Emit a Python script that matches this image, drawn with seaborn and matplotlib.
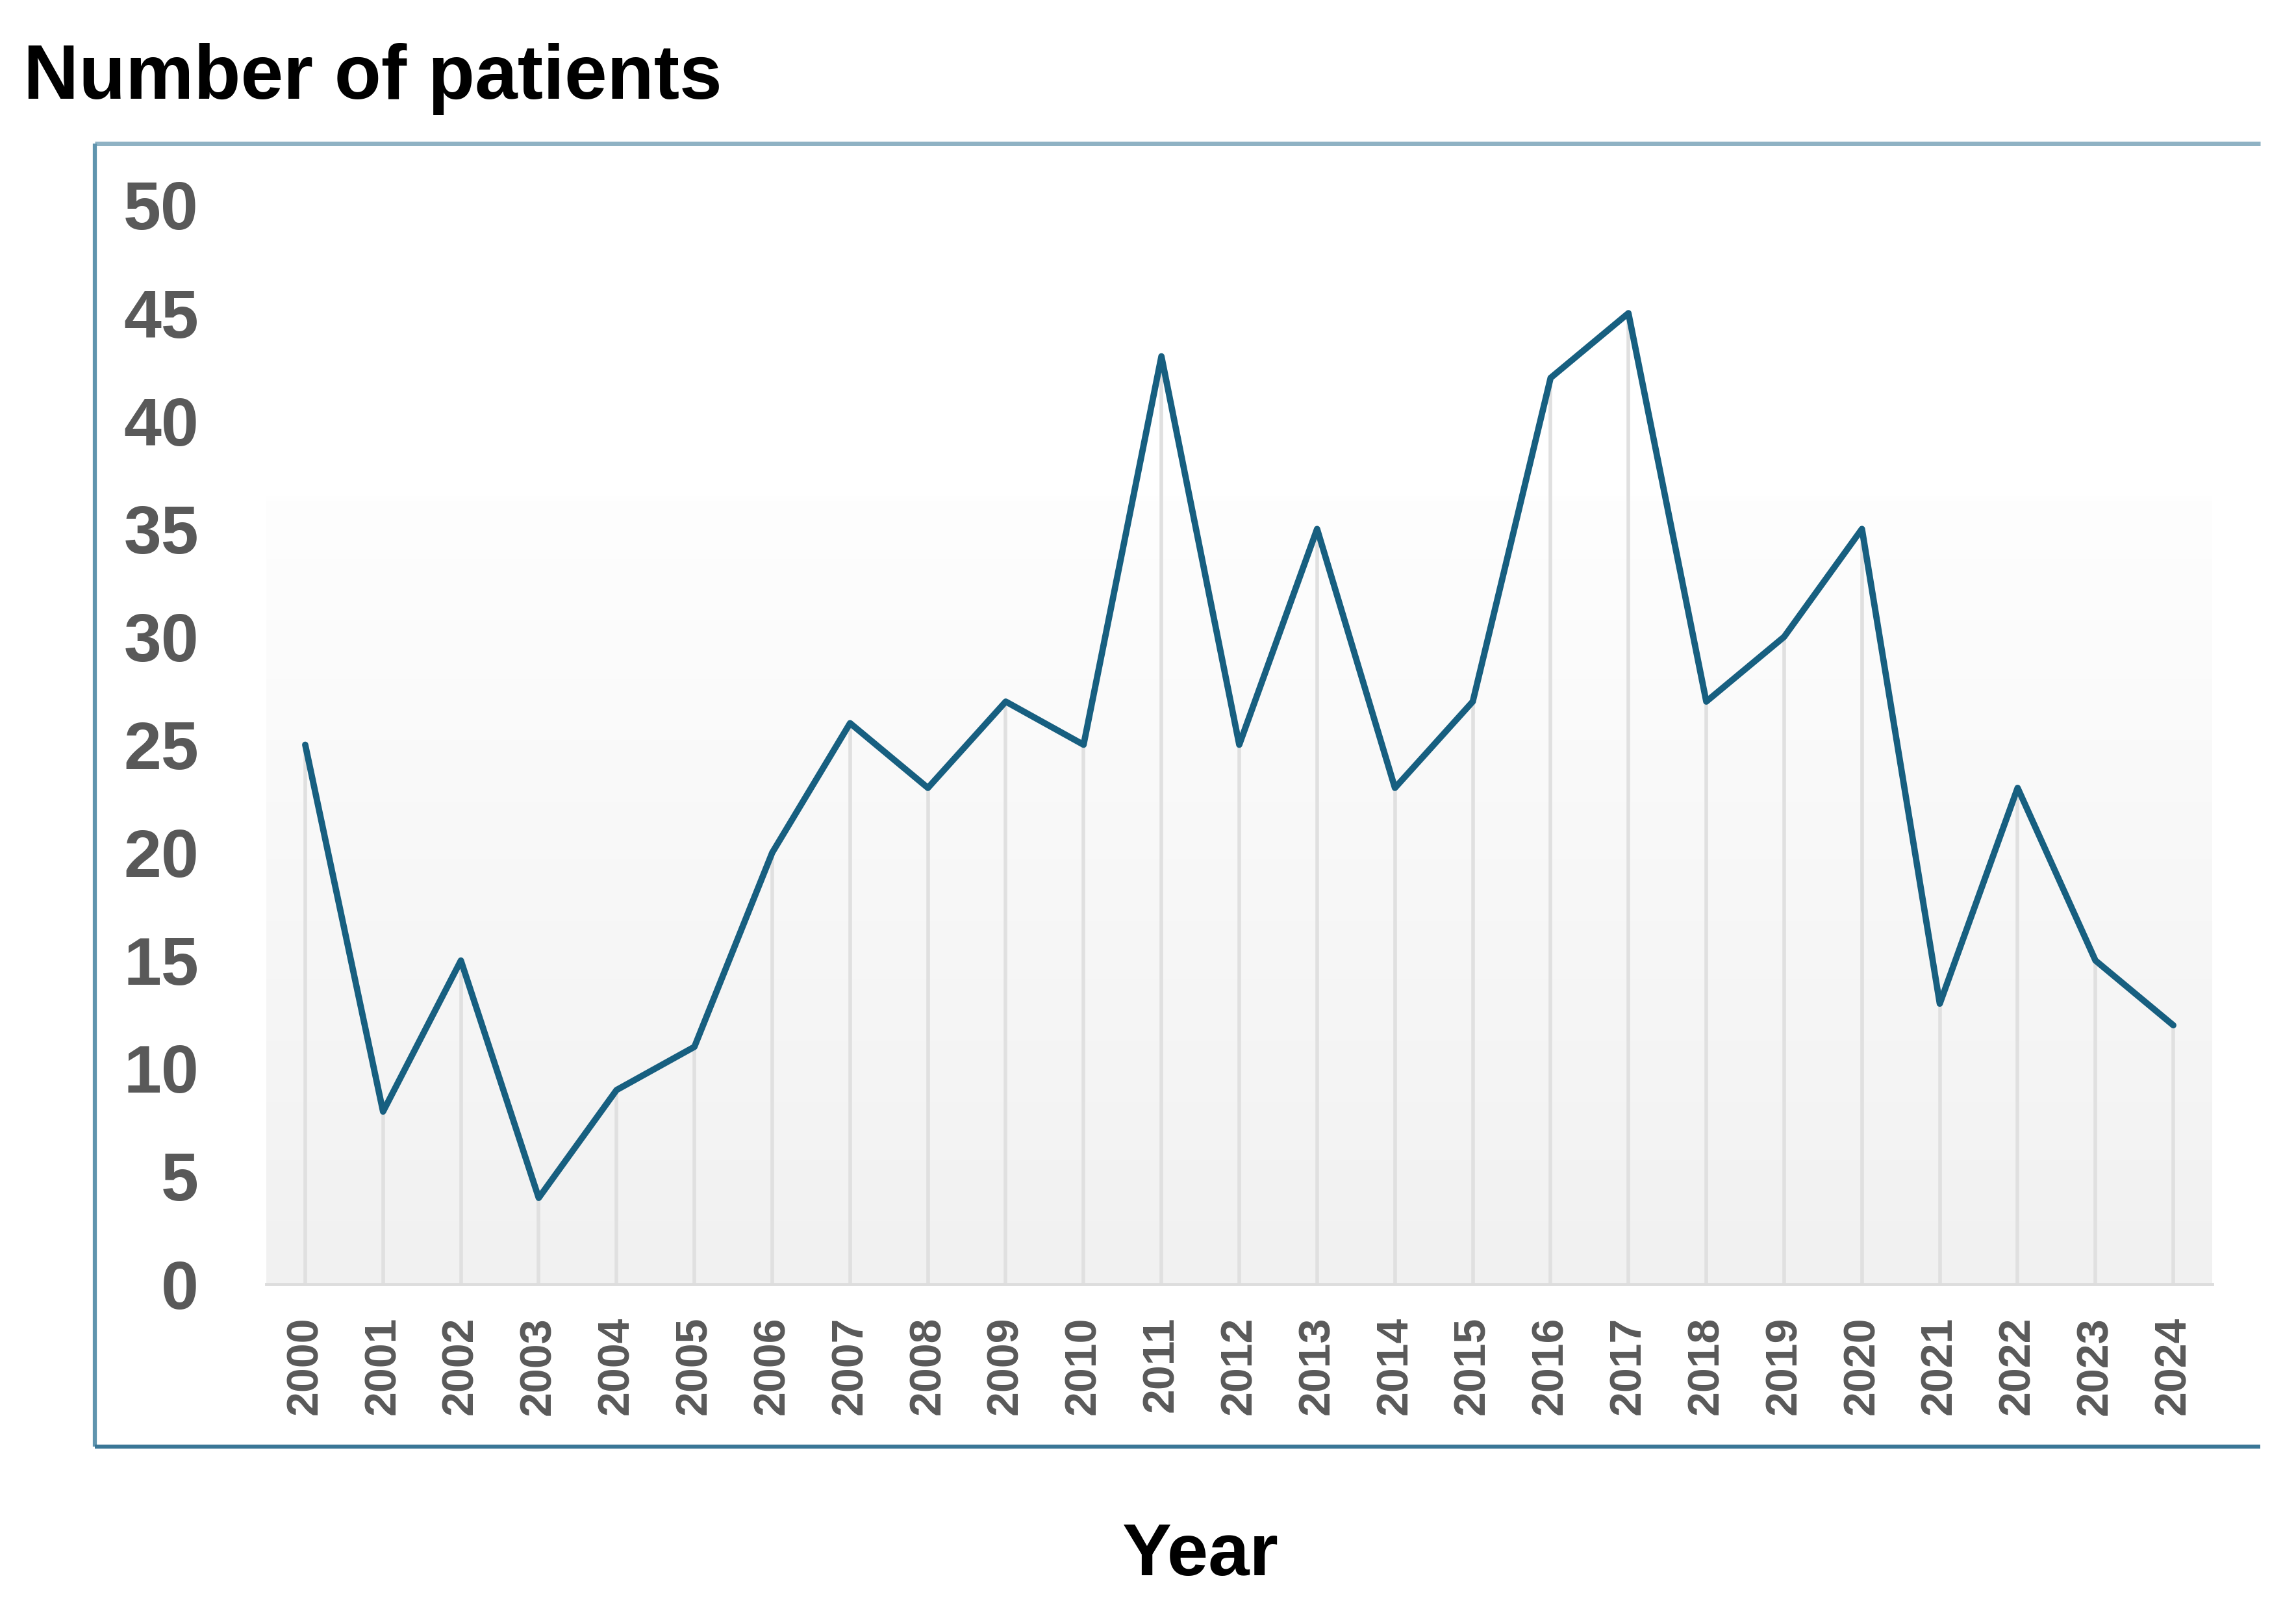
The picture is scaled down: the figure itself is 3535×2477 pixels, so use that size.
"""
Number of patients per year, 2000-2024 (line chart with drop lines).
"""

import numpy as np
import pandas as pd
import matplotlib
matplotlib.use("Agg")
import matplotlib.pyplot as plt
from matplotlib.lines import Line2D
from matplotlib.colors import LinearSegmentedColormap
import seaborn as sns

# ── Data ──────────────────────────────────────────────────────────────────────
years = list(range(2000, 2025))
patients = [25, 8, 15, 4, 9, 11, 20, 26, 23, 27, 25, 43, 25, 35, 23, 27,
            42, 45, 27, 30, 35, 13, 23, 15, 12]
y_ticks = [0, 5, 10, 15, 20, 25, 30, 35, 40, 45, 50]

TITLE = "Number of patients"
XLABEL = "Year"

LINE_COLOR = "#175f80"
TICK_COLOR = "#595959"
DROP_COLOR = "#e0e0e0"

W, H = 3535, 2477
DPI = 100


def fx(px):
    return px / W


def fy(py):
    return 1 - py / H


def main():
    sns.set_theme(style="white")
    plt.rcParams["font.family"] = ["Liberation Sans", "DejaVu Sans"]

    df = pd.DataFrame({"year": years, "patients": patients})

    fig = plt.figure(figsize=(W / DPI, H / DPI), dpi=DPI)
    fig.patch.set_facecolor("white")
    ax = fig.add_axes([fx(410), fy(1977), fx(3406) - fx(410), fy(316) - fy(1977)])
    ax.set_facecolor("white")

    x0, x1 = years[0] - 0.5, years[-1] + 0.5

    # soft grey gradient behind the plot (white at top -> light grey at bottom)
    grad_cmap = LinearSegmentedColormap.from_list("bg", ["#f1f1f1", "#fefefe"])
    grad = np.linspace(0, 1, 256).reshape(-1, 1)
    ax.imshow(grad, cmap=grad_cmap, origin="lower", aspect="auto",
              extent=[x0, x1, 0, 36.5], zorder=0, interpolation="bicubic")

    # drop lines from the axis up to each point
    ax.vlines(df["year"], 0, df["patients"], color=DROP_COLOR, lw=4, zorder=1)

    sns.lineplot(data=df, x="year", y="patients", ax=ax, color=LINE_COLOR,
                 linewidth=7, zorder=3, legend=False)

    ax.set_xlim(x0, x1)
    ax.set_ylim(0, 50)
    ax.set_xticks(years)
    ax.set_xticklabels([str(y) for y in years], rotation=90)
    ax.set_yticks(y_ticks)
    ax.set_yticklabels([str(v) for v in y_ticks])
    ax.set_xlabel("")
    ax.set_ylabel("")
    ax.grid(False)

    for lbl in ax.get_yticklabels():
        lbl.set_fontsize(75)
        lbl.set_fontweight("bold")
        lbl.set_color(TICK_COLOR)
    for lbl in ax.get_xticklabels():
        lbl.set_fontsize(49)
        lbl.set_fontweight("bold")
        lbl.set_color(TICK_COLOR)
    ax.tick_params(axis="y", length=0, pad=75)
    ax.tick_params(axis="x", length=0, pad=36)

    for side in ["top", "right", "left"]:
        ax.spines[side].set_visible(False)
    ax.spines["bottom"].set_color("#dddddd")
    ax.spines["bottom"].set_linewidth(3.5)

    # outer frame (top, left, bottom)
    fig.add_artist(Line2D([fx(146), fx(3480)], [fy(221), fy(221)],
                          color="#8fb2c4", lw=5, solid_capstyle="butt"))
    fig.add_artist(Line2D([fx(146), fx(146)], [fy(221), fy(2227)],
                          color="#5f94ae", lw=4.5, solid_capstyle="butt"))
    fig.add_artist(Line2D([fx(146), fx(3480)], [fy(2227), fy(2227)],
                          color="#3a7696", lw=4.5, solid_capstyle="butt"))

    fig.text(fx(36), fy(152), TITLE, ha="left", va="baseline",
             fontsize=85, fontweight="bold", color="black")
    fig.text(fx(1847), fy(2425), XLABEL, ha="center", va="baseline",
             fontsize=82, fontweight="bold", color="black")

    fig.savefig("out.png", dpi=DPI, facecolor="white")
    plt.close(fig)


if __name__ == "__main__":
    main()
